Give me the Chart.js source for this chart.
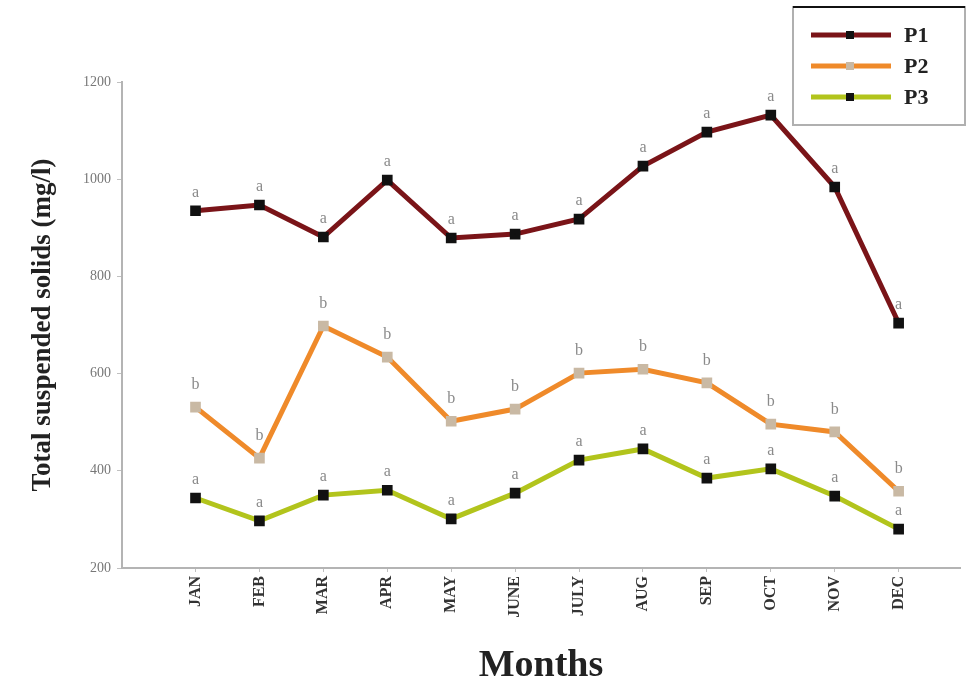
<!DOCTYPE html>
<html>
<head>
<meta charset="utf-8">
<script src="https://cdn.jsdelivr.net/npm/chart.js@4/dist/chart.umd.min.js"></script>
<style>
  html, body { margin: 0; padding: 0; background: #fff; }
  #wrap { width: 969px; height: 685px; }
</style>
</head>
<body>
<div id="wrap"><canvas id="c" width="969" height="685"></canvas></div>
<script>
// Monthly total suspended solids at three sampling points
const months = ["JAN", "FEB", "MAR", "APR", "MAY", "JUNE", "JULY", "AUG", "SEP", "OCT", "NOV", "DEC"];
const p1 = [935, 947, 881, 998, 879, 887, 918, 1027, 1097, 1132, 984, 704];
const p2 = [531, 426, 698, 634, 502, 527, 601, 609, 581, 496, 480, 358];
const p3 = [344, 297, 350, 360, 301, 354, 422, 445, 385, 404, 348, 280];
// Significance letters shown above each point
const p1Letters = ["a", "a", "a", "a", "a", "a", "a", "a", "a", "a", "a", "a"];
const p2Letters = ["b", "b", "b", "b", "b", "b", "b", "b", "b", "b", "b", "b"];
const p3Letters = ["a", "a", "a", "a", "a", "a", "a", "a", "a", "a", "a", "a"];
const yTicks = [200, 400, 600, 800, 1000, 1200];

const serif = "'Liberation Serif', 'DejaVu Serif', serif";

function series(values) {
  return values.map((v, i) => ({ x: i, y: v }));
}

// Letters drawn over each point, positioned from the chart's own scales
const letterPlugin = {
  id: "letters",
  afterDatasetsDraw(chart) {
    const ctx = chart.ctx;
    const sets = [p1Letters, p2Letters, p3Letters];
    const lift = [10, 14, 10];
    ctx.save();
    ctx.font = "16px " + serif;
    ctx.fillStyle = "#8a8a8a";
    ctx.textAlign = "center";
    ctx.textBaseline = "bottom";
    chart.data.datasets.forEach((ds, di) => {
      const meta = chart.getDatasetMeta(di);
      meta.data.forEach((pt, i) => {
        ctx.fillText(sets[di][i], pt.x, pt.y - lift[di]);
      });
    });
    ctx.restore();
  }
};

// Boxed legend in the top-right corner
const legendPlugin = {
  id: "boxLegend",
  afterDraw(chart) {
    const ctx = chart.ctx;
    const x0 = 793, y0 = 7, w = 172, h = 118;
    ctx.save();
    ctx.fillStyle = "#fff";
    ctx.fillRect(x0, y0, w, h);
    ctx.strokeStyle = "#b0b0b0";
    ctx.lineWidth = 2;
    ctx.strokeRect(x0, y0, w, h);
    ctx.strokeStyle = "#111";
    ctx.lineWidth = 2;
    ctx.beginPath();
    ctx.moveTo(x0, y0);
    ctx.lineTo(x0 + w, y0);
    ctx.stroke();
    chart.data.datasets.forEach((ds, i) => {
      const y = y0 + 28 + i * 31;
      ctx.strokeStyle = ds.borderColor;
      ctx.lineWidth = 5;
      ctx.beginPath();
      ctx.moveTo(811, y);
      ctx.lineTo(891, y);
      ctx.stroke();
      ctx.fillStyle = ds.pointBackgroundColor;
      ctx.fillRect(846, y - 4, 8, 8);
      ctx.fillStyle = "#222";
      ctx.font = "bold 22px " + serif;
      ctx.textAlign = "left";
      ctx.textBaseline = "middle";
      ctx.fillText(ds.label, 904, y + 1);
    });
    ctx.restore();
  }
};

new Chart(document.getElementById("c"), {
  type: "line",
  data: {
    datasets: [
      {
        label: "P1", data: series(p1),
        borderColor: "#7a1418", borderWidth: 5,
        pointStyle: "rect", pointRadius: 4,
        pointBackgroundColor: "#111", pointBorderColor: "#111"
      },
      {
        label: "P2", data: series(p2),
        borderColor: "#ef8a2a", borderWidth: 5,
        pointStyle: "rect", pointRadius: 4,
        pointBackgroundColor: "#c9b9a4", pointBorderColor: "#c9b9a4"
      },
      {
        label: "P3", data: series(p3),
        borderColor: "#b2c41c", borderWidth: 5,
        pointStyle: "rect", pointRadius: 4,
        pointBackgroundColor: "#111", pointBorderColor: "#111"
      }
    ]
  },
  options: {
    responsive: false,
    animation: false,
    layout: { padding: { left: 0, top: 82, right: 4, bottom: 0 } },
    plugins: {
      legend: { display: false },
      tooltip: { enabled: false }
    },
    scales: {
      x: {
        type: "linear",
        min: -1.15,
        max: 11.96,
        afterBuildTicks(scale) {
          scale.ticks = months.map((m, i) => ({ value: i }));
        },
        afterFit(scale) { scale.height = 117; },
        border: { color: "#b4b4b4", width: 2 },
        grid: { drawOnChartArea: false, drawTicks: true, tickLength: 4, color: "#c0c0c0" },
        ticks: {
          autoSkip: false,
          minRotation: 90, maxRotation: 90,
          padding: 4,
          color: "#333",
          font: { family: serif, size: 16, weight: "bold" },
          callback: (v) => months[v]
        },
        title: {
          display: true, text: "Months",
          color: "#222",
          font: { family: serif, size: 38, weight: "bold", lineHeight: 1 },
          padding: { top: 0, bottom: 0 }
        }
      },
      y: {
        min: 200, max: 1200,
        afterBuildTicks(scale) {
          scale.ticks = yTicks.map(v => ({ value: v }));
        },
        afterFit(scale) { scale.width = 122; },
        border: { color: "#b4b4b4", width: 2 },
        grid: { drawOnChartArea: false, drawTicks: true, tickLength: 5, color: "#c0c0c0" },
        ticks: {
          padding: 6,
          color: "#777",
          font: { family: serif, size: 14 },
          callback: (v) => String(v)
        },
        title: {
          display: true, text: "Total suspended solids (mg/l)",
          color: "#222",
          font: { family: serif, size: 27, weight: "bold", lineHeight: 1 },
          padding: { top: 30, bottom: 0 }
        }
      }
    }
  },
  plugins: [letterPlugin, legendPlugin]
});
</script>
</body>
</html>
